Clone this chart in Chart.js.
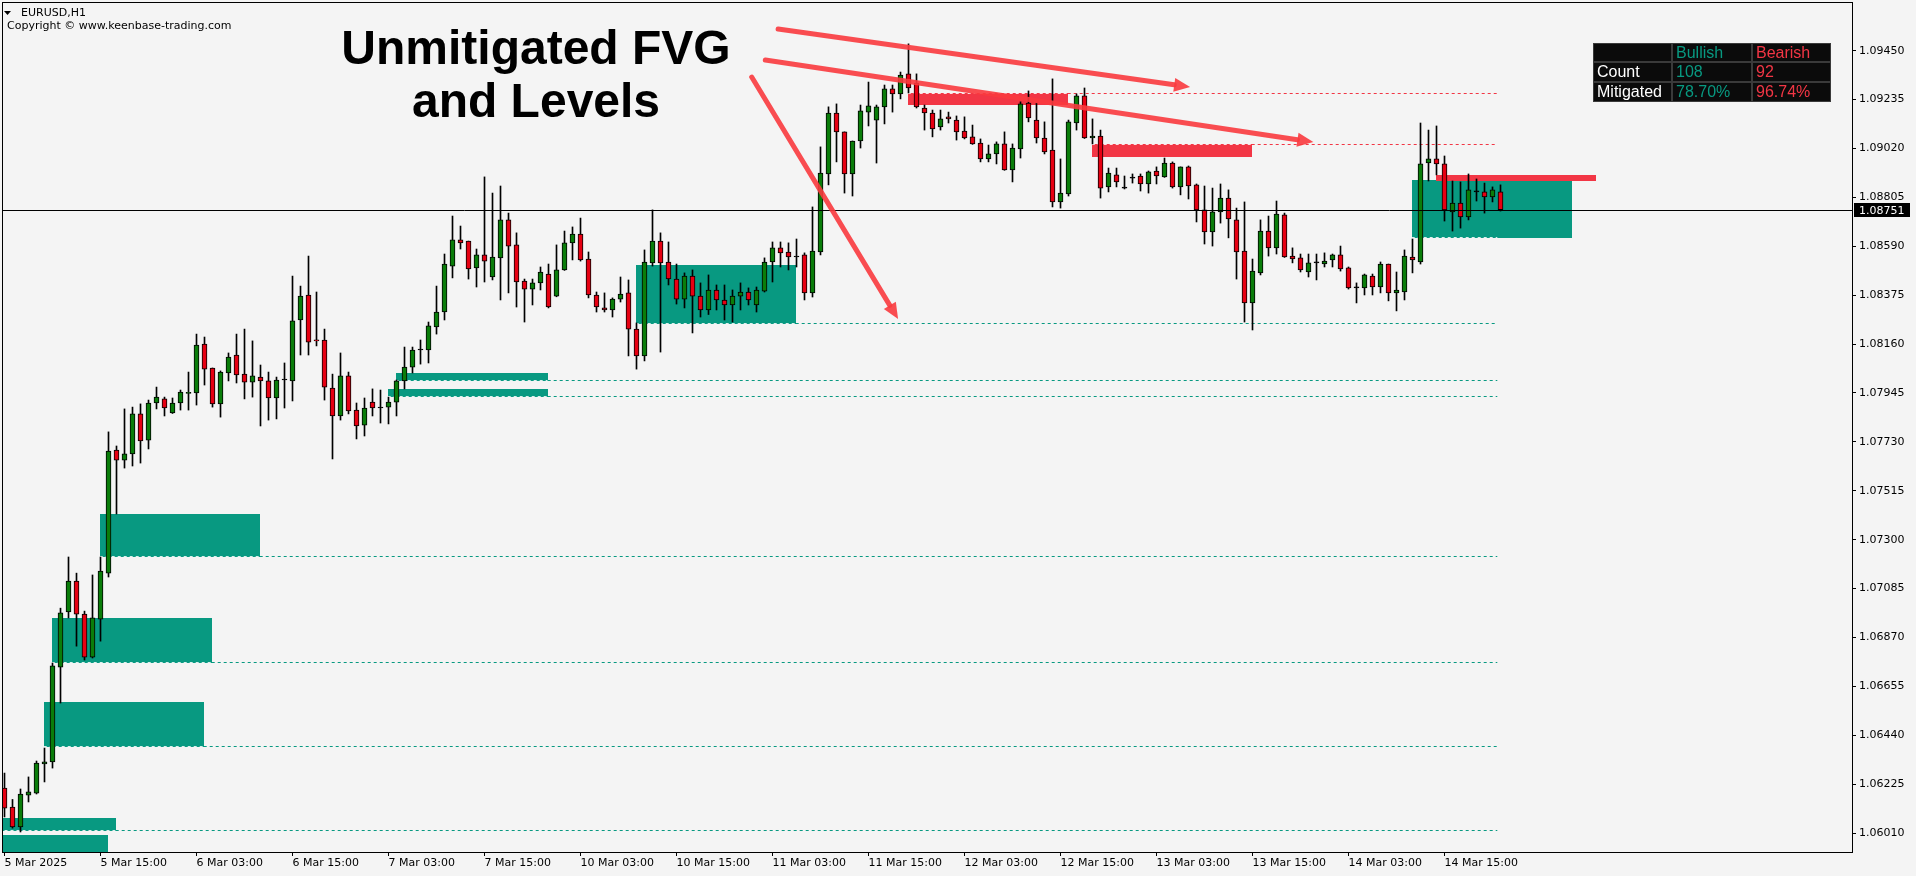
<!DOCTYPE html>
<html>
<head>
<meta charset="utf-8">
<title>EURUSD,H1</title>
<script src="https://cdn.jsdelivr.net/npm/chart.js@4.4.1/dist/chart.umd.min.js"></script>
<style>
  html, body { margin: 0; padding: 0; background: #f4f4f4; overflow: hidden; }
  #wrap { width: 1916px; height: 876px; }
</style>
</head>
<body>
<div id="wrap"><canvas id="chart" width="1916" height="876"></canvas></div>
<script>
// EURUSD H1 candles, 5 Mar 03:00 .. 14 Mar 22:00
const open = [
  1.06208,1.06125,1.06037,1.06177,1.06186,1.06314,1.06323,1.06740,1.06982,1.07118,
  1.06973,1.06784,1.06951,1.07153,1.07694,1.07650,1.07677,1.07853,1.07738,1.07901,
  1.07919,1.07857,1.07901,1.07943,1.07945,1.08160,1.08055,1.07897,1.08033,1.08112,
  1.08028,1.07993,1.08015,1.07998,1.07923,1.08002,1.07998,1.08266,1.08376,1.08178,
  1.08178,1.07967,1.07844,1.08020,1.07870,1.07804,1.07905,1.07879,1.07883,1.07905,
  1.07998,1.08059,1.08134,1.08134,1.08235,1.08301,1.08503,1.08618,1.08613,1.08495,
  1.08552,1.08455,1.08539,1.08706,1.08596,1.08437,1.08402,1.08429,1.08468,1.08371,
  1.08486,1.08605,1.08644,1.08534,1.08376,1.08319,1.08310,1.08358,1.08385,1.08226,
  1.08108,1.08517,1.08613,1.08521,1.08446,1.08358,1.08459,1.08371,1.08310,1.08398,
  1.08354,1.08332,1.08371,1.08389,1.08332,1.08393,1.08521,1.08583,1.08565,1.08543,
  1.08552,1.08385,1.08565,1.08908,1.09176,1.09093,1.08908,1.09053,1.09180,1.09145,
  1.09203,1.09282,1.09260,1.09348,1.09308,1.09198,1.09176,1.09115,1.09159,1.09145,
  1.09097,1.09071,1.09044,1.08974,1.08996,1.09040,1.08926,1.09018,1.09220,1.09145,
  1.09066,1.09013,1.08785,1.08820,1.09132,1.09251,1.09066,1.09075,1.08851,1.08904,
  1.08846,1.08890,1.08899,1.08864,1.08921,1.08895,1.08956,1.08851,1.08939,1.08860,
  1.08750,1.08653,1.08741,1.08802,1.08706,1.08569,1.08341,1.08473,1.08657,1.08583,
  1.08728,1.08547,1.08539,1.08477,1.08517,1.08512,1.08530,1.08552,1.08495,1.08407,
  1.08407,1.08459,1.08411,1.08512,1.08385,1.08389,1.08543,1.08521,1.08956,1.08974,
  1.08952,1.08741,1.08780,1.08719,1.08829,1.08829,1.08807,1.08829
];
const high = [
  1.06274,1.06158,1.06204,1.06257,1.06327,1.06384,1.06758,1.06999,1.07224,1.07153,
  1.06986,1.07145,1.07224,1.07774,1.07712,1.07875,1.07883,1.07897,1.07914,1.07971,
  1.07927,1.07923,1.07958,1.08037,1.08204,1.08191,1.08055,1.08042,1.08121,1.08204,
  1.08226,1.08174,1.08068,1.08037,1.08015,1.08077,1.08459,1.08415,1.08547,1.08389,
  1.08226,1.08028,1.08121,1.08037,1.07901,1.07923,1.07963,1.07958,1.07927,1.08002,
  1.08147,1.08147,1.08178,1.08257,1.08415,1.08556,1.08723,1.08679,1.08613,1.08578,
  1.08895,1.08824,1.08855,1.08736,1.08649,1.08446,1.08446,1.08499,1.08512,1.08596,
  1.08657,1.08675,1.08714,1.08565,1.08389,1.08385,1.08363,1.08455,1.08442,1.08253,
  1.08574,1.08750,1.08649,1.08609,1.08512,1.08473,1.08486,1.08429,1.08464,1.08420,
  1.08420,1.08398,1.08429,1.08407,1.08411,1.08539,1.08609,1.08609,1.08605,1.08622,
  1.08561,1.08763,1.09027,1.09203,1.09216,1.09093,1.09053,1.09211,1.09312,1.09211,
  1.09299,1.09299,1.09356,1.09480,1.09348,1.09211,1.09189,1.09189,1.09180,1.09163,
  1.09159,1.09123,1.09062,1.09035,1.09049,1.09093,1.09040,1.09225,1.09273,1.09220,
  1.09137,1.09326,1.08974,1.09145,1.09260,1.09286,1.09150,1.09101,1.08934,1.08934,
  1.08899,1.08908,1.08908,1.08921,1.08939,1.08978,1.08961,1.08939,1.08943,1.08864,
  1.08855,1.08846,1.08864,1.08838,1.08758,1.08785,1.08534,1.08706,1.08723,1.08789,
  1.08736,1.08583,1.08556,1.08556,1.08556,1.08561,1.08556,1.08591,1.08499,1.08429,
  1.08468,1.08468,1.08521,1.08512,1.08477,1.08574,1.08622,1.09132,1.09101,1.09119,
  1.08987,1.08877,1.08873,1.08908,1.08886,1.08868,1.08851,1.08860
];
const low = [
  1.06081,1.06032,1.06015,1.06147,1.06182,1.06235,1.06296,1.06582,1.06956,1.06832,
  1.06771,1.06780,1.06854,1.07136,1.07413,1.07615,1.07624,1.07637,1.07699,1.07875,
  1.07844,1.07855,1.07870,1.07870,1.07892,1.07980,1.07883,1.07839,1.07998,1.07989,
  1.07919,1.07927,1.07800,1.07826,1.07831,1.07879,1.07910,1.08112,1.08112,1.08152,
  1.07914,1.07655,1.07826,1.07853,1.07743,1.07756,1.07844,1.07813,1.07809,1.07844,
  1.07963,1.08033,1.08072,1.08077,1.08204,1.08266,1.08451,1.08578,1.08446,1.08411,
  1.08433,1.08442,1.08354,1.08385,1.08323,1.08257,1.08332,1.08398,1.08319,1.08368,
  1.08484,1.08530,1.08525,1.08363,1.08301,1.08301,1.08279,1.08345,1.08108,1.08050,
  1.08086,1.08503,1.08125,1.08420,1.08336,1.08319,1.08209,1.08279,1.08290,1.08310,
  1.08266,1.08257,1.08310,1.08332,1.08301,1.08389,1.08433,1.08499,1.08486,1.08499,
  1.08354,1.08367,1.08552,1.08860,1.08961,1.08824,1.08811,1.09022,1.09119,1.08956,
  1.09128,1.09180,1.09238,1.09264,1.09198,1.09101,1.09071,1.09101,1.09132,1.09057,
  1.09062,1.09038,1.08961,1.08961,1.08952,1.08924,1.08873,1.08978,1.09137,1.09044,
  1.08996,1.08763,1.08758,1.08811,1.09101,1.09064,1.09040,1.08802,1.08829,1.08851,
  1.08842,1.08868,1.08833,1.08824,1.08864,1.08893,1.08846,1.08816,1.08798,1.08697,
  1.08600,1.08591,1.08692,1.08627,1.08446,1.08257,1.08222,1.08464,1.08547,1.08556,
  1.08541,1.08517,1.08477,1.08455,1.08442,1.08499,1.08499,1.08481,1.08402,1.08341,
  1.08376,1.08376,1.08385,1.08350,1.08306,1.08354,1.08473,1.08512,1.08877,1.08904,
  1.08701,1.08657,1.08670,1.08706,1.08789,1.08736,1.08785,1.08745
];
const close = [
  1.06120,1.06037,1.06182,1.06191,1.06318,1.06323,1.06745,1.06978,1.07118,1.06973,
  1.06784,1.06956,1.07162,1.07690,1.07650,1.07677,1.07853,1.07734,1.07901,1.07927,
  1.07879,1.07901,1.07949,1.07947,1.08156,1.08050,1.07897,1.08037,1.08103,1.08024,
  1.07993,1.08020,1.07998,1.07923,1.08002,1.08002,1.08262,1.08371,1.08169,1.08174,
  1.07971,1.07844,1.08020,1.07866,1.07800,1.07879,1.07879,1.07879,1.07905,1.07998,
  1.08059,1.08134,1.08134,1.08240,1.08301,1.08512,1.08618,1.08605,1.08490,1.08552,
  1.08525,1.08543,1.08706,1.08591,1.08433,1.08402,1.08429,1.08477,1.08323,1.08486,
  1.08605,1.08644,1.08530,1.08376,1.08323,1.08310,1.08358,1.08380,1.08226,1.08108,
  1.08521,1.08613,1.08517,1.08446,1.08358,1.08459,1.08371,1.08310,1.08398,1.08354,
  1.08332,1.08371,1.08389,1.08354,1.08398,1.08521,1.08583,1.08561,1.08543,1.08543,
  1.08385,1.08569,1.08912,1.09176,1.09093,1.08908,1.09053,1.09185,1.09207,1.09203,
  1.09282,1.09260,1.09343,1.09286,1.09203,1.09176,1.09106,1.09150,1.09150,1.09093,
  1.09066,1.09040,1.08974,1.08996,1.09040,1.08926,1.09022,1.09216,1.09154,1.09066,
  1.09005,1.08785,1.08824,1.09137,1.09251,1.09066,1.09075,1.08846,1.08912,1.08873,
  1.08846,1.08890,1.08864,1.08917,1.08899,1.08956,1.08851,1.08939,1.08855,1.08750,
  1.08653,1.08741,1.08802,1.08710,1.08565,1.08341,1.08481,1.08657,1.08583,1.08732,
  1.08543,1.08534,1.08486,1.08517,1.08517,1.08525,1.08552,1.08490,1.08407,1.08407,
  1.08464,1.08411,1.08512,1.08385,1.08398,1.08547,1.08530,1.08952,1.08974,1.08952,
  1.08750,1.08780,1.08719,1.08838,1.08829,1.08807,1.08838,1.08751
];

// time axis labels, one every 12 bars
const tickLabels = ['5 Mar 2025', '5 Mar 15:00', '6 Mar 03:00', '6 Mar 15:00', '7 Mar 03:00', '7 Mar 15:00',
  '10 Mar 03:00', '10 Mar 15:00', '11 Mar 03:00', '11 Mar 15:00', '12 Mar 03:00', '12 Mar 15:00',
  '13 Mar 03:00', '13 Mar 15:00', '14 Mar 03:00', '14 Mar 15:00'];
const priceTicks = [1.06010, 1.06225, 1.06440, 1.06655, 1.06870, 1.07085, 1.07300, 1.07515, 1.07730,
  1.07945, 1.08160, 1.08375, 1.08590, 1.08805, 1.09020, 1.09235, 1.09450];
const lastPrice = 1.08751;

// fair value gaps: [from bar, to bar, top price, bottom price]
const bullBoxes = [
  [-7, 12.9, 1.06002, 1.05900], [-6, 13.9, 1.06076, 1.06019], [4.9, 24.9, 1.06586, 1.06388],
  [5.9, 25.9, 1.06956, 1.06758], [11.9, 31.9, 1.07413, 1.07224], [48.9, 67.9, 1.08033, 1.07998],
  [47.9, 67.9, 1.07963, 1.07927], [78.9, 98.9, 1.08508, 1.08248], [175.9, 195.9, 1.08882, 1.08627]
];
const bearBoxes = [
  [112.9, 132.9, 1.09264, 1.09211], [135.9, 155.9, 1.09040, 1.08983], [178.9, 198.9, 1.08904, 1.08877]
];
// unmitigated levels: [from bar, box end bar, price]
const bullLevels = [
  [-6, 13.9, 1.06019], [4.9, 24.9, 1.06388], [5.9, 25.9, 1.06758], [11.9, 31.9, 1.07224],
  [48.9, 67.9, 1.07998], [47.9, 67.9, 1.07927], [78.9, 98.9, 1.08248], [175.9, 186.6, 1.08627]
];
const bearLevels = [[112.9, 132.9, 1.09264], [135.9, 155.9, 1.09040]];
const levelEnd = 186.6;

// annotation arrows: [bar, price, bar, price]
const arrows = [
  [96.7, 1.09545, 148.2, 1.09290],
  [95.1, 1.09409, 163.6, 1.09048],
  [93.4, 1.09334, 111.7, 1.08270]
];
const titleLines = ['Unmitigated FVG', 'and Levels'];
const tableHead = ['', 'Bullish', 'Bearish'];
const tableRows = [['Count', '108', '92'], ['Mitigated', '78.70%', '96.74%']];

const BG = '#f4f4f4', TEAL = '#089981', FVG_RED = '#f23645';
const UP = '#0a7d0a', DOWN = '#e60012';
const AXIS_FONT = { family: 'DejaVu Sans', size: 11 };
const xTicks = tickLabels.map((_, k) => k * 12);
const bars = open.map((_, i) => i);
const bodyColor = open.map((o, i) => close[i] > o ? UP : close[i] < o ? DOWN : '#000');

function drawArrow(ctx, x1, y1, x2, y2) {
  const a = Math.atan2(y2 - y1, x2 - x1), len = 16, half = 7;
  const bx = x2 - len * Math.cos(a), by = y2 - len * Math.sin(a);
  ctx.beginPath(); ctx.moveTo(x1, y1); ctx.lineTo(bx, by); ctx.stroke();
  ctx.beginPath(); ctx.moveTo(x2, y2);
  ctx.lineTo(bx + half * Math.sin(a), by - half * Math.cos(a));
  ctx.lineTo(bx - half * Math.sin(a), by + half * Math.cos(a));
  ctx.closePath(); ctx.fill();
}

const overlay = {
  id: 'overlay',
  beforeDraw(chart) {
    const { ctx, width, height } = chart;
    ctx.save(); ctx.fillStyle = BG; ctx.fillRect(0, 0, width, height); ctx.restore();
  },
  beforeDatasetsDraw(chart) {
    const { ctx, chartArea: a, scales: { x, y } } = chart;
    ctx.save();
    ctx.beginPath(); ctx.rect(a.left, a.top, a.right - a.left, a.bottom - a.top); ctx.clip();
    const box = (b, color) => {
      const x1 = Math.round(x.getPixelForValue(b[0])), x2 = Math.round(x.getPixelForValue(b[1]));
      const y1 = Math.round(y.getPixelForValue(b[2])), y2 = Math.round(y.getPixelForValue(b[3]));
      ctx.fillStyle = color; ctx.fillRect(x1, y1, x2 - x1, y2 - y1);
    };
    bullBoxes.forEach(b => box(b, TEAL));
    bearBoxes.forEach(b => box(b, FVG_RED));
    const level = (l, color, shift) => {
      const x1 = x.getPixelForValue(l[0]), x2 = x.getPixelForValue(l[1]), x3 = x.getPixelForValue(levelEnd);
      const yy = Math.round(y.getPixelForValue(l[2])) + shift;
      ctx.lineWidth = 1; ctx.setLineDash([3, 3]);
      ctx.strokeStyle = 'rgba(255,255,255,.85)';
      ctx.beginPath(); ctx.moveTo(x1, yy); ctx.lineTo(Math.min(x2, x3), yy); ctx.stroke();
      if (x2 < x3) {
        ctx.strokeStyle = color;
        ctx.beginPath(); ctx.moveTo(x2, yy); ctx.lineTo(x3, yy); ctx.stroke();
      }
    };
    bullLevels.forEach(l => level(l, TEAL, -0.5));
    bearLevels.forEach(l => level(l, FVG_RED, 0.5));
    ctx.restore();
  },
  afterDatasetsDraw(chart) {
    const { ctx, chartArea: a, scales: { y } } = chart;
    const py = Math.round(y.getPixelForValue(lastPrice)) + 0.5;
    ctx.save();
    ctx.strokeStyle = '#000'; ctx.lineWidth = 1;
    ctx.beginPath(); ctx.moveTo(a.left, py); ctx.lineTo(a.right, py); ctx.stroke();
    ctx.strokeRect(a.left + 0.5, a.top + 0.5, a.right - a.left, a.bottom - a.top);
    ctx.restore();
  },
  afterDraw(chart) {
    const { ctx, chartArea: a, scales: { x, y } } = chart;
    ctx.save();
    ctx.beginPath(); ctx.rect(a.left, a.top, a.right - a.left, a.bottom - a.top); ctx.clip();
    ctx.strokeStyle = 'rgba(250,58,62,.9)'; ctx.fillStyle = 'rgba(250,58,62,.9)';
    ctx.lineWidth = 5; ctx.lineCap = 'round';
    arrows.forEach(r => drawArrow(ctx, x.getPixelForValue(r[0]), y.getPixelForValue(r[1]),
      x.getPixelForValue(r[2]), y.getPixelForValue(r[3])));
    ctx.restore();

    ctx.save();
    ctx.fillStyle = '#000'; ctx.textAlign = 'center'; ctx.textBaseline = 'alphabetic';
    ctx.font = 'bold 48px "Liberation Sans"';
    titleLines.forEach((t, k) => ctx.fillText(t, 536, 64 + k * 53));

    // chart header
    ctx.textAlign = 'left'; ctx.textBaseline = 'middle';
    ctx.font = '11px "DejaVu Sans"';
    ctx.beginPath(); ctx.moveTo(4, 11); ctx.lineTo(11, 11); ctx.lineTo(7.5, 15); ctx.closePath(); ctx.fill();
    ctx.fillText('EURUSD,H1', 21, 13);
    ctx.fillText('Copyright \u00a9 www.keenbase-trading.com', 7, 26);

    // current price tag
    const py = Math.round(y.getPixelForValue(lastPrice));
    ctx.fillRect(a.right + 2, py - 7, 56, 14);
    ctx.fillStyle = '#fff';
    ctx.fillText(lastPrice.toFixed(5), a.right + 7, py + 1);

    // statistics table
    const cols = [1593, 1672, 1752, 1831], rows = [43, 62, 82, 102];
    ctx.fillStyle = '#3a3a3a'; ctx.fillRect(cols[0], rows[0], cols[3] - cols[0], rows[3] - rows[0]);
    ctx.font = '16px "Liberation Sans"';
    [tableHead, ...tableRows].forEach((row, r) => row.forEach((cell, c) => {
      ctx.fillStyle = '#0b0b0b';
      ctx.fillRect(cols[c] + 1, rows[r] + 1, cols[c + 1] - cols[c] - 2, rows[r + 1] - rows[r] - 2);
      ctx.fillStyle = c === 0 ? '#fff' : c === 1 ? TEAL : FVG_RED;
      ctx.fillText(cell, cols[c] + 4, (rows[r] + rows[r + 1]) / 2 + 1);
    }));
    ctx.restore();
  }
};

new Chart(document.getElementById('chart'), {
  type: 'bar',
  data: {
    datasets: [
      { label: 'Range', data: bars.map(i => ({ x: i, y: [low[i], high[i]] })), backgroundColor: '#000',
        barThickness: 1, maxBarThickness: 1, grouped: false, order: 1 },
      { label: 'Body', data: bars.map(i => ({ x: i, y: [open[i], close[i]] })), backgroundColor: bodyColor,
        borderColor: '#000', borderWidth: 1, borderSkipped: false, minBarLength: 1,
        barThickness: 5, maxBarThickness: 5, grouped: false, order: 0 }
    ]
  },
  options: {
    responsive: false,
    animation: false,
    devicePixelRatio: 1,
    layout: { padding: { left: 2, top: 2, right: 0, bottom: 0 } },
    plugins: { legend: { display: false }, tooltip: { enabled: false } },
    scales: {
      x: {
        type: 'linear', min: -0.3125, max: 230.9375, offset: false,
        grid: { drawOnChartArea: false, drawTicks: true, tickLength: 4, color: '#000', offset: false },
        border: { display: false },
        ticks: { autoSkip: false, maxRotation: 0, align: 'start', padding: 1, color: '#000', font: AXIS_FONT,
          callback: v => tickLabels[xTicks.indexOf(v)] ?? '' },
        afterBuildTicks: s => { s.ticks = xTicks.map(value => ({ value })); },
        afterFit: s => { s.height = 24; s.paddingLeft = 0; s.paddingRight = 0; }
      },
      y: {
        position: 'right', min: 1.05927, max: 1.09664,
        grid: { drawOnChartArea: false, drawTicks: true, tickLength: 4, color: '#000' },
        border: { display: false },
        ticks: { autoSkip: false, padding: 3, color: '#000', font: AXIS_FONT, callback: v => v.toFixed(5) },
        afterBuildTicks: s => { s.ticks = priceTicks.map(value => ({ value })); },
        afterFit: s => { s.width = 64; s.paddingTop = 0; s.paddingBottom = 0; }
      }
    }
  },
  plugins: [overlay]
});
</script>
</body>
</html>
